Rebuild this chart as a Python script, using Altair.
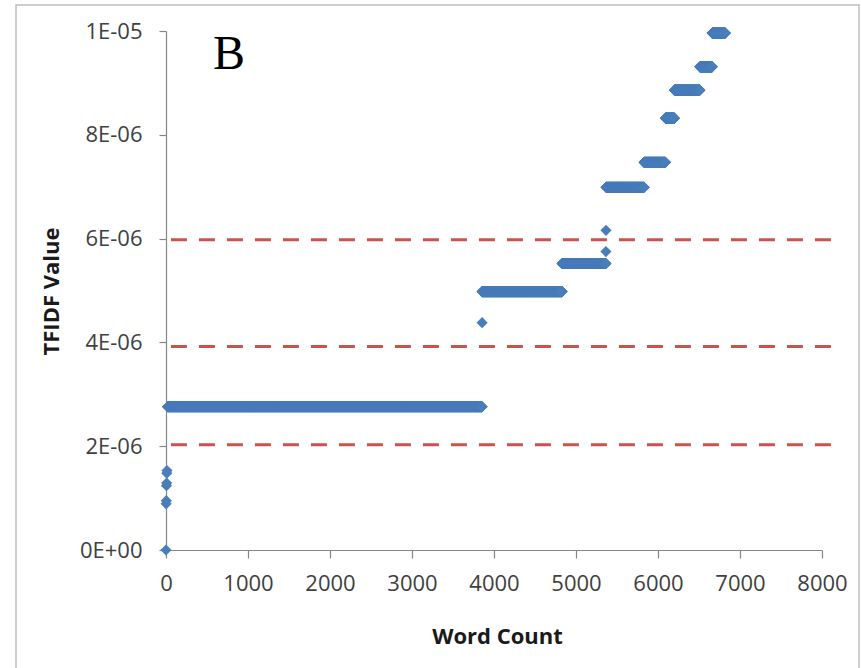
import altair as alt
import pandas as pd

# Word ranks grouped into TFIDF plateaus: every rank in [start, end] shares one value
band_start = [20, 3856, 4831, 5367, 5831, 6091, 6201, 6511, 6661]
band_end = [3854, 4830, 5364, 5830, 6090, 6200, 6510, 6660, 6820]
band_value = [2.76e-6, 4.98e-6, 5.52e-6, 6.99e-6, 7.47e-6, 8.32e-6, 8.86e-6, 9.31e-6, 9.96e-6]

# Words that sit off the plateaus
single_rank = [0, 2, 4, 6, 8, 10, 12, 3855, 5365, 5366]
single_value = [0.0, 0.89e-6, 0.95e-6, 1.24e-6, 1.29e-6, 1.48e-6, 1.53e-6, 4.38e-6, 5.75e-6, 6.16e-6]

# Dashed threshold levels
threshold_value = [2.03e-6, 3.92e-6, 5.98e-6]
threshold_from = 60
threshold_to = 8120

x_ticks = [0, 1000, 2000, 3000, 4000, 5000, 6000, 7000, 8000]
y_ticks = [0.0, 2e-6, 4e-6, 6e-6, 8e-6, 1e-5]
y_tick_labels = ["{:.0E}".format(v) for v in y_ticks]

rows = []
for s, e, v in zip(band_start, band_end, band_value):
    for r in range(s, e + 1):
        rows.append({"rank": r, "tfidf": v})
for r, v in zip(single_rank, single_value):
    rows.append({"rank": r, "tfidf": v})
points_df = pd.DataFrame(rows)

thresholds_df = pd.DataFrame({
    "value": threshold_value,
    "x_from": [threshold_from] * len(threshold_value),
    "x_to": [threshold_to] * len(threshold_value),
})

FONT = "Open Sans"
AXIS_GRAY = "#868686"

label_expr = "{}[indexof({}, datum.value)]".format(
    "[" + ",".join("'%s'" % t for t in y_tick_labels) + "]",
    "[" + ",".join(repr(v) for v in y_ticks) + "]",
)

x_scale = alt.Scale(domain=[0, 8000], nice=False, zero=False)
y_scale = alt.Scale(domain=[0, 1e-5], nice=False, zero=False)

x_axis = alt.Axis(
    values=x_ticks, format="d", grid=False, labelFlush=False, labelOverlap=False,
    domainColor=AXIS_GRAY, domainWidth=1.2, tickColor=AXIS_GRAY, tickWidth=1.2, tickSize=8,
    labelFont=FONT, labelFontSize=22, labelColor="#404040", labelPadding=15,
    title="Word Count", titleFont=FONT, titleFontSize=22, titleFontWeight="bold",
    titleColor="#1a1a1a", titleX=331, titleY=86, titleBaseline="middle", titleAlign="center",
)
y_axis = alt.Axis(
    values=y_ticks, labelExpr=label_expr, grid=False, labelFlush=False, labelOverlap=False,
    domainColor=AXIS_GRAY, domainWidth=1.2, tickColor=AXIS_GRAY, tickWidth=1.2, tickSize=7,
    labelFont=FONT, labelFontSize=22, labelColor="#404040", labelPadding=17,
    title="TFIDF Value", titleFont=FONT, titleFontSize=22, titleFontWeight="bold",
    titleColor="#1a1a1a", titleX=-115, titleY=260, titleAngle=270,
    titleBaseline="middle", titleAlign="center",
)

frame = alt.Chart(alt.Data(values=[{}])).mark_rect(
    fillOpacity=0, stroke="#BFBFBF", strokeWidth=1.5
).encode(
    x=alt.value(-150), x2=alt.value(693), y=alt.value(-26), y2=alt.value(700)
)

thresholds = alt.Chart(thresholds_df).mark_rule(
    color="#C9534F", strokeWidth=3, strokeDash=[16, 12]
).encode(
    x=alt.X("x_from:Q", scale=x_scale, axis=x_axis),
    x2="x_to:Q",
    y=alt.Y("value:Q", scale=y_scale, axis=y_axis),
)

points = alt.Chart(points_df).mark_point(
    shape="diamond", filled=True, size=125, color="#4A7EBB", opacity=1
).encode(
    x=alt.X("rank:Q", scale=x_scale, axis=x_axis),
    y=alt.Y("tfidf:Q", scale=y_scale, axis=y_axis),
)

panel_letter = alt.Chart(alt.Data(values=[{}])).mark_text(
    text="B", font="Liberation Serif", fontSize=48, color="#000000",
    align="left", baseline="alphabetic"
).encode(x=alt.value(47), y=alt.value(38))

chart = alt.layer(frame, thresholds, points, panel_letter).properties(
    width=656, height=519,
    autosize=alt.AutoSizeParams(type="none"),
    padding={"left": 166, "top": 31, "right": 39, "bottom": 118},
).configure(background="#FFFFFF").configure_view(stroke=None)

chart.save("out.html", embed_options={"renderer": "svg", "actions": False})
